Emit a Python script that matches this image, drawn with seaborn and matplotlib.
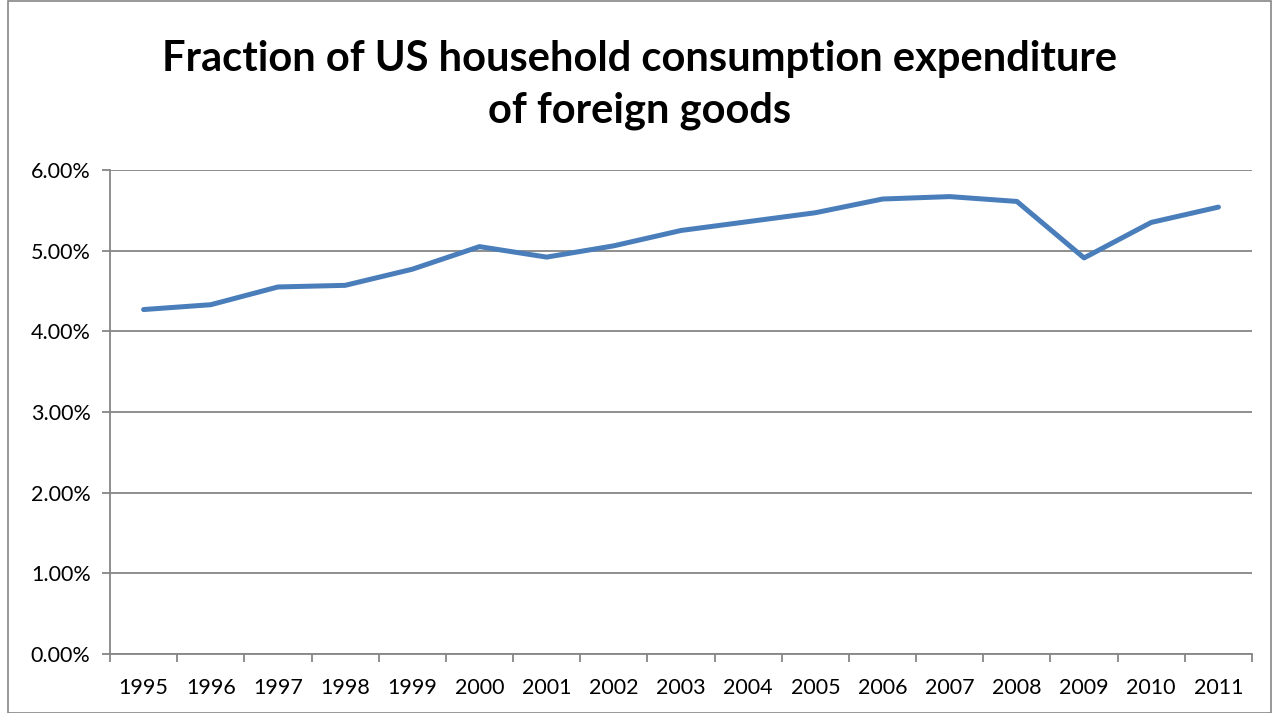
import matplotlib
matplotlib.use("Agg")
import matplotlib.pyplot as plt
import seaborn as sns
import pandas as pd
from matplotlib.ticker import FuncFormatter, MultipleLocator, FixedLocator
from matplotlib.patches import Rectangle

years = ['1995', '1996', '1997', '1998', '1999', '2000', '2001', '2002', '2003',
         '2004', '2005', '2006', '2007', '2008', '2009', '2010', '2011']
share = [4.27, 4.33, 4.55, 4.57, 4.77, 5.05, 4.92, 5.06, 5.25,
         5.36, 5.47, 5.64, 5.67, 5.61, 4.91, 5.35, 5.54]

df = pd.DataFrame({'year': years, 'share': share})

sns.set_style('white')
plt.rcParams['font.family'] = ['Lato', 'DejaVu Sans']
plt.rcParams['text.color'] = 'black'
plt.rcParams['xtick.labelcolor'] = 'black'
plt.rcParams['ytick.labelcolor'] = 'black'

fig = plt.figure(figsize=(12.79, 7.13), dpi=100)
ax = fig.add_axes([0.086, 0.0827, 0.8929, 0.6789])

sns.lineplot(data=df, x='year', y='share', color='#4A7EBB', linewidth=3.6, ax=ax,
             solid_capstyle='round', solid_joinstyle='round')

ax.set_xlim(-0.5, len(years) - 0.5)
ax.set_ylim(0, 6)
ax.yaxis.set_major_locator(MultipleLocator(1))
ax.yaxis.set_major_formatter(FuncFormatter(lambda v, p: f'{v:.2f}%'))
ax.grid(axis='y', color='#868686', linewidth=1.3)
ax.set_axisbelow(True)

# tick marks sit between the categories, labels at the centres
ax.xaxis.set_minor_locator(FixedLocator([i - 0.5 for i in range(len(years) + 1)]))
ax.tick_params(axis='x', which='major', length=0, pad=17, labelsize=15.5)
ax.tick_params(axis='x', which='minor', length=6, width=1.3, color='#868686', direction='out', bottom=True)
ax.tick_params(axis='y', which='major', length=6, width=1.3, color='#868686', direction='out', left=True, pad=8, labelsize=15.5)

for side in ['top', 'right']:
    ax.spines[side].set_visible(False)
for side in ['left', 'bottom']:
    ax.spines[side].set_color('#868686')
    ax.spines[side].set_linewidth(1.3)

ax.set_xlabel('')
ax.set_ylabel('')

fig.text(0.5, 0.881, 'Fraction of US household consumption expenditure\nof foreign goods',
         ha='center', va='center', fontsize=30, fontweight='bold', linespacing=1.45,
         color='black')

fig.patches.append(Rectangle((0.006, 0.0), 0.988, 0.998, transform=fig.transFigure,
                             fill=False, edgecolor='#868686', linewidth=1.2))

fig.savefig('out.png', dpi=100)
